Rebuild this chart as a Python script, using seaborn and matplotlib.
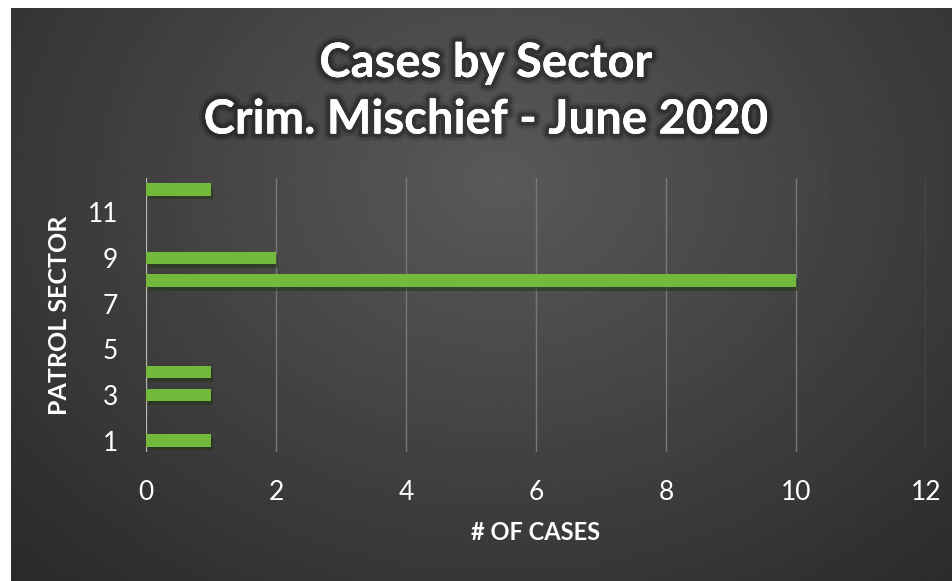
import numpy as np
import pandas as pd
import matplotlib
matplotlib.use("Agg")
import matplotlib.pyplot as plt
import matplotlib.patheffects as pe
import seaborn as sns

# data
sectors = [1, 2, 3, 4, 5, 6, 7, 8, 9, 10, 11, 12]
cases = [1, 0, 1, 1, 0, 0, 0, 10, 2, 0, 0, 1]
x_ticks = [0, 2, 4, 6, 8, 10, 12]
y_ticks = [1, 3, 5, 7, 9, 11]

df = pd.DataFrame({"sector": sectors, "cases": cases})

sns.set_theme(style="dark")
plt.rcParams['font.family'] = ['Lato', 'DejaVu Sans']

W, H = 953, 581
fig = plt.figure(figsize=(W / 100, H / 100), dpi=100)
fig.patch.set_facecolor('white')

# dark radial-gradient backdrop
bg = fig.add_axes([11 / W, 0, (W - 11) / W, (H - 8) / H])
gx, gy = np.meshgrid(np.linspace(0, 1, 400), np.linspace(0, 1, 300))
r = np.sqrt(((gx - 0.52) / 0.75) ** 2 + ((gy - 0.3) / 1.0) ** 2)
shade = 0.35 - 0.19 * np.clip(r, 0, 1)
bg.imshow(shade, cmap='gray', vmin=0, vmax=1, aspect='auto', extent=[0, 1, 1, 0])
bg.set_axis_off()

ax = fig.add_axes([146 / W, 1 - 452 / H, 780 / W, 274 / H])
ax.set_facecolor('none')

sns.barplot(data=df, x='cases', y='sector', orient='h', native_scale=True,
            color='#72b93c', saturation=1, width=0.55, ax=ax, zorder=3,
            linewidth=0, edgecolor='none')
for bar in ax.patches:
    bar.set_path_effects([pe.SimplePatchShadow(offset=(1.5, -2.5), alpha=0.55),
                          pe.Normal()])

ax.set_xlim(0, 12)
ax.set_ylim(0.5, 12.5)
ax.set_xticks(x_ticks)
ax.set_yticks(y_ticks)
ax.grid(axis='x', color='#787878', lw=1, zorder=0)
ax.grid(axis='y', visible=False)
ax.axvline(0, color='#b8b8b8', lw=1.5, zorder=2)
for s in ax.spines.values():
    s.set_visible(False)

ax.tick_params(axis='both', length=0, colors='white', labelsize=19)
ax.tick_params(axis='x', pad=20)
ax.tick_params(axis='y', pad=20)

ax.set_xlabel('# OF CASES', color='white', fontsize=17, fontweight='bold', labelpad=12)
ax.set_ylabel('PATROL SECTOR', color='white', fontsize=18, fontweight='bold', labelpad=12)

glow = [pe.withStroke(linewidth=10, foreground='black', alpha=0.12),
        pe.withStroke(linewidth=6, foreground='black', alpha=0.25),
        pe.Normal()]
fig.text(0.51, 0.843, 'Cases by Sector\nCrim. Mischief - June 2020',
         ha='center', va='center', color='white', fontsize=34,
         fontweight='bold', linespacing=1.35, path_effects=glow)

fig.savefig('out.png', dpi=100, facecolor=fig.get_facecolor())
